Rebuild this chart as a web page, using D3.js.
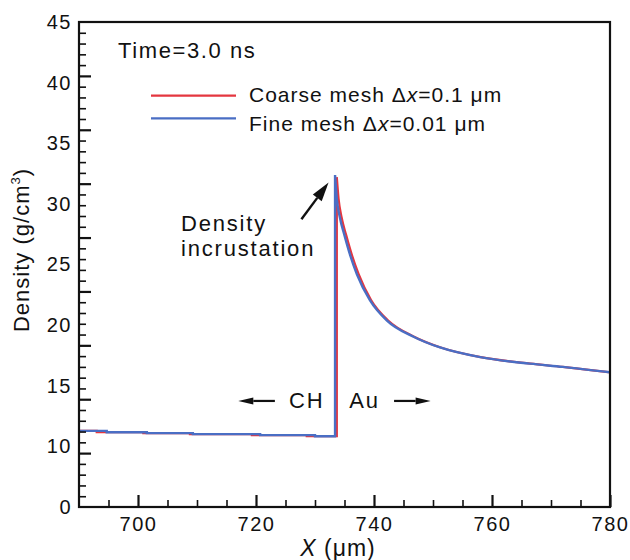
<!DOCTYPE html>
<html>
<head>
<meta charset="utf-8">
<script src="https://cdn.jsdelivr.net/npm/d3@7"></script>
<style>
  body { margin: 0; background: #fff; }
  svg { display: block; font-family: "Liberation Sans", Arial, sans-serif; }
</style>
</head>
<body>
<div id="chart"></div>
<script>
"use strict";

// x ticks (um)
const X_MAJOR = [700, 720, 740, 760, 780];
const X_MINOR = [695, 705, 710, 715, 725, 730, 735, 745, 750, 755, 765, 770, 775];
// y ticks: ticks are spaced 0..45, labels are spread evenly along the axis (as printed)
const Y_TICK_LABELS = ["0", "10", "15", "20", "25", "30", "35", "40", "45"];

// fine mesh, dx = 0.01 um
const fineChX = [690, 694.7, 701.5, 709.3, 720.7, 730, 733.4];
const fineChY = [7.06, 6.94, 6.85, 6.76, 6.67, 6.57, 6.57];
const fineAuX = [733.4, 733.7, 734.2, 735.0, 736.0, 737.1, 739.3, 742.2, 746.7, 751.2, 758.0, 766.4, 772.0, 780];
const fineAuY = [30.8, 28.6, 26.9, 25.2, 23.3, 21.6, 19.2, 17.3, 15.8, 14.8, 13.9, 13.3, 13.0, 12.5];

// coarse mesh, dx = 0.1 um
const coarseChX = [690, 693.0, 700.9, 708.8, 719.3, 728.6, 733.7];
const coarseChY = [7.06, 6.94, 6.85, 6.76, 6.67, 6.57, 6.57];
const coarseAuX = [733.7, 734.0, 734.5, 735.3, 736.3, 737.4, 739.5, 742.4, 746.8, 751.3, 758.1, 766.5, 772.0, 780];
const coarseAuY = [30.6, 28.6, 26.9, 25.2, 23.3, 21.6, 19.2, 17.3, 15.8, 14.8, 13.9, 13.3, 13.0, 12.5];

const W = 630, H = 560;
const M = { left: 79, right: 20, top: 22, bottom: 53 };
const RED = "#e4363f", BLUE = "#4a6ec4", INK = "#111";
const FONT = "\"Liberation Sans\", Arial, sans-serif";

const svg = d3.select("#chart").append("svg").attr("width", W).attr("height", H);
svg.append("rect").attr("width", W).attr("height", H).attr("fill", "#fff");

const x = d3.scaleLinear().domain([690, 780]).range([M.left, W - M.right]);
const y = d3.scaleLinear().domain([0, 45]).range([H - M.bottom, M.top]);
const yLab = d3.scalePoint().domain(Y_TICK_LABELS).range([H - M.bottom, M.top]);

// curves
const stepLine = d3.line().x(d => x(d[0])).y(d => y(d[1])).curve(d3.curveStepAfter);
const smoothLine = d3.line().x(d => x(d[0])).y(d => y(d[1])).curve(d3.curveMonotoneX);

function seriesPath(chX, chY, auX, auY) {
  const ch = chX.map((v, i) => [v, chY[i]]);
  const au = auX.map((v, i) => [v, auY[i]]);
  return stepLine(ch) + smoothLine(au).replace(/^M/, "L");
}

const plot = svg.append("g");
plot.append("path")
  .attr("d", seriesPath(coarseChX, coarseChY, coarseAuX, coarseAuY))
  .attr("fill", "none").attr("stroke", RED).attr("stroke-width", 2.2);
plot.append("path")
  .attr("d", seriesPath(fineChX, fineChY, fineAuX, fineAuY))
  .attr("fill", "none").attr("stroke", BLUE).attr("stroke-width", 2.4);

// axes
function styleTicks(g, w) {
  g.select(".domain").remove();
  g.selectAll(".tick line").attr("stroke", INK).attr("stroke-width", w);
}

svg.append("g").attr("transform", `translate(0,${H - M.bottom})`)
  .call(d3.axisBottom(x).tickValues(X_MINOR).tickSize(-7).tickFormat(""))
  .call(g => styleTicks(g, 1.6));
svg.append("g").attr("transform", `translate(0,${H - M.bottom})`)
  .call(d3.axisBottom(x).tickValues(X_MAJOR).tickSize(-12).tickPadding(10).tickFormat(d3.format("d")))
  .call(g => styleTicks(g, 2.2))
  .call(g => g.selectAll("text").attr("fill", INK).style("font", `20px ${FONT}`).style("letter-spacing", "1.5px"));

svg.append("g").attr("transform", `translate(${M.left},0)`)
  .call(d3.axisLeft(y).tickValues(d3.range(0, 46, 1).filter(v => v % 5)).tickSize(-7).tickFormat(""))
  .call(g => styleTicks(g, 1.6));
svg.append("g").attr("transform", `translate(${M.left},0)`)
  .call(d3.axisLeft(y).tickValues(d3.range(5, 45, 5)).tickSize(-12).tickFormat(""))
  .call(g => styleTicks(g, 2.2));
svg.append("g").attr("transform", `translate(${M.left},0)`)
  .call(d3.axisLeft(yLab).tickSize(0).tickPadding(7))
  .call(g => g.select(".domain").remove())
  .call(g => g.selectAll("text").attr("fill", INK).style("font", `20px ${FONT}`).style("letter-spacing", "1.5px"));

// frame
svg.append("rect")
  .attr("x", M.left).attr("y", M.top)
  .attr("width", W - M.left - M.right).attr("height", H - M.top - M.bottom)
  .attr("fill", "none").attr("stroke", INK).attr("stroke-width", 2.2);

// axis titles
const xt = svg.append("text")
  .attr("x", 338).attr("y", 556).attr("text-anchor", "middle")
  .attr("fill", INK).style("font", `23px ${FONT}`).style("letter-spacing", "1px");
xt.append("tspan").attr("font-style", "italic").text("X");
xt.append("tspan").text(" (\u03bcm)");

const yt = svg.append("text")
  .attr("transform", "translate(28.5,250) rotate(-90)")
  .attr("text-anchor", "middle")
  .attr("fill", INK).style("font", `22px ${FONT}`).style("letter-spacing", "1px");
yt.append("tspan").text("Density (g/cm");
yt.append("tspan").attr("dy", -9).style("font-size", "13px").text("3");
yt.append("tspan").attr("dy", 9).text(")");

// time label and legend
svg.append("text").attr("x", 118).attr("y", 58)
  .attr("fill", INK).style("font", `22px ${FONT}`).style("letter-spacing", "1.6px")
  .text("Time=3.0 ns");

const legend = [
  { color: RED, label: "Coarse mesh ", dx: "0.1", lineY: 95.7, textY: 101.5 },
  { color: BLUE, label: "Fine mesh ", dx: "0.01", lineY: 118.3, textY: 130.5 }
];
legend.forEach(d => {
  svg.append("line").attr("x1", 151).attr("x2", 236).attr("y1", d.lineY).attr("y2", d.lineY)
    .attr("stroke", d.color).attr("stroke-width", 2.2);
  const t = svg.append("text").attr("x", 249).attr("y", d.textY)
    .attr("fill", INK).style("font", `21px ${FONT}`).style("letter-spacing", "1px");
  t.append("tspan").text(d.label + "\u0394");
  t.append("tspan").attr("font-style", "italic").text("x");
  t.append("tspan").text("=" + d.dx + " \u03bcm");
});

// annotations
function arrow(x1, y1, x2, y2, len, half, sw) {
  const a = Math.atan2(y2 - y1, x2 - x1);
  const bx = x2 - len * Math.cos(a), by = y2 - len * Math.sin(a);
  svg.append("line").attr("x1", x1).attr("y1", y1).attr("x2", bx).attr("y2", by)
    .attr("stroke", INK).attr("stroke-width", sw);
  const px = -Math.sin(a) * half, py = Math.cos(a) * half;
  svg.append("path")
    .attr("d", `M${x2},${y2}L${bx + px},${by + py}L${bx - px},${by - py}Z`)
    .attr("fill", INK);
}

const ann = svg.append("text").attr("fill", INK)
  .style("font", `22px ${FONT}`).style("letter-spacing", "1.8px");
ann.append("tspan").attr("x", x(707.3)).attr("y", y(25.6)).text("Density");
ann.append("tspan").attr("x", x(707.3)).attr("y", y(23.25)).text("incrustation");
arrow(x(727.7), y(26.7), x(732.3), y(30.1), 19, 5.5, 2.4);

svg.append("text").attr("x", x(725.6)).attr("y", y(9.17)).attr("fill", INK)
  .style("font", `22px ${FONT}`).style("letter-spacing", "1.8px").text("CH");
arrow(x(723.2), y(9.84), x(717.0), y(9.84), 15, 3.5, 2.2);

svg.append("text").attr("x", x(735.8)).attr("y", y(9.17)).attr("fill", INK)
  .style("font", `22px ${FONT}`).style("letter-spacing", "1.8px").text("Au");
arrow(x(743.4), y(9.84), x(749.6), y(9.84), 15, 3.5, 2.2);
</script>
</body>
</html>
